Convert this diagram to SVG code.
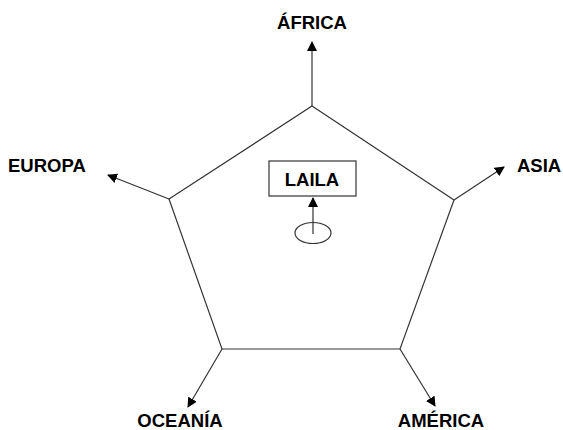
<svg xmlns="http://www.w3.org/2000/svg" width="563" height="430" viewBox="0 0 563 430">
<style>
.lbl{font-family:"Liberation Sans",Arial,sans-serif;font-weight:bold;font-size:18.5px;fill:#000}
.ln{stroke:#333;stroke-width:1.2;fill:none}
</style>
<defs>
<marker id="ah" markerWidth="10" markerHeight="10" refX="9" refY="5" orient="auto" markerUnits="userSpaceOnUse">
<path d="M0,0 L10,5 L0,10 z" fill="#000"/>
</marker>
</defs>
<rect width="563" height="430" fill="#fff"/>
<g id="pentagon">
<polygon class="ln" points="312,106 454,200 400,349 222,349 169,199"/>
</g>
<g id="connectors">
<line class="ln" x1="312" y1="106" x2="312" y2="42" marker-end="url(#ah)"/>
<line class="ln" x1="169" y1="199" x2="108" y2="175" marker-end="url(#ah)"/>
<line class="ln" x1="454" y1="200" x2="504" y2="167" marker-end="url(#ah)"/>
<line class="ln" x1="222" y1="349" x2="188" y2="407" marker-end="url(#ah)"/>
<line class="ln" x1="400" y1="349" x2="435" y2="406" marker-end="url(#ah)"/>
<line class="ln" x1="313" y1="234" x2="313" y2="198" marker-end="url(#ah)"/>
</g>
<g id="africa"><text class="lbl" x="312" y="29" text-anchor="middle">ÁFRICA</text></g>
<g id="europa"><text class="lbl" x="8" y="172">EUROPA</text></g>
<g id="asia"><text class="lbl" x="517" y="172">ASIA</text></g>
<g id="oceania"><text class="lbl" x="180" y="427" text-anchor="middle">OCEANÍA</text></g>
<g id="america"><text class="lbl" x="441" y="427" text-anchor="middle">AMÉRICA</text></g>
<g id="laila">
<rect x="269" y="161" width="87" height="35" fill="#fff" stroke="#333" stroke-width="1.2"/>
<text class="lbl" x="312" y="186" text-anchor="middle">LAILA</text>
</g>
<g id="origin"><ellipse cx="313" cy="233" rx="18" ry="10.5" fill="none" stroke="#333" stroke-width="1.2"/></g>
</svg>
